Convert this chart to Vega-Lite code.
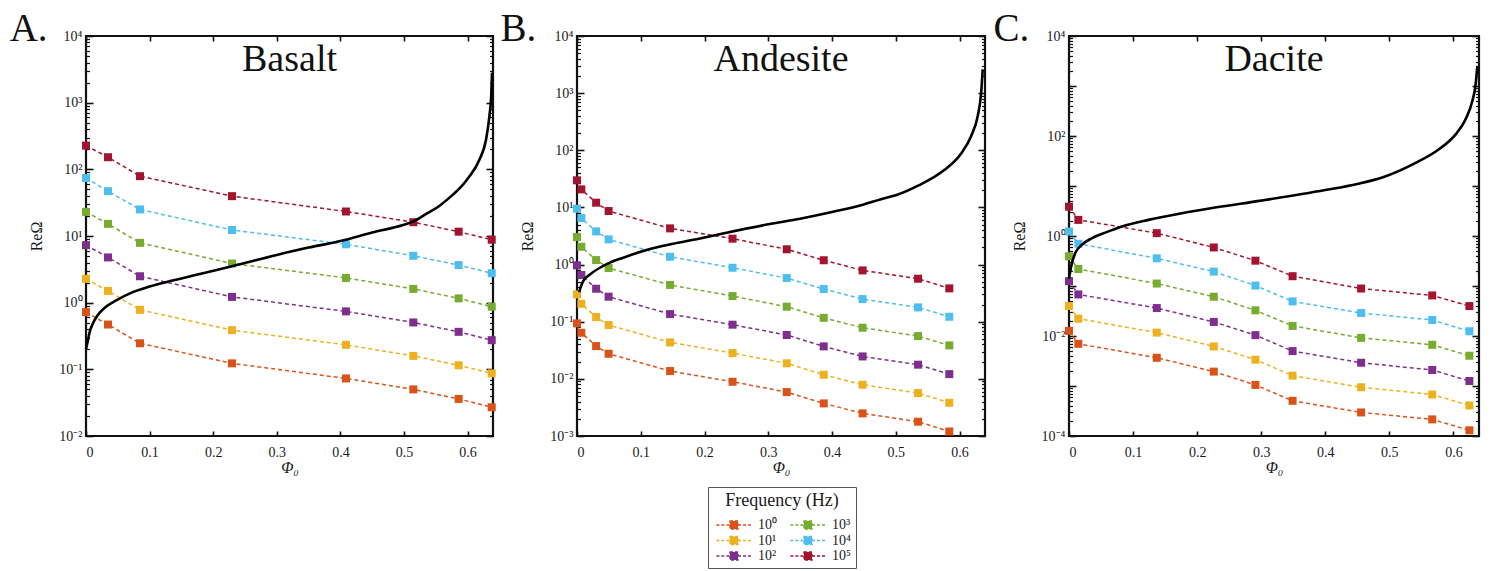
{
  "$schema": "https://vega.github.io/schema/vega-lite/v6.json",
  "padding": {"left": 8, "top": 8, "right": 5, "bottom": 4},
  "bounds": "flush",
  "spacing": 84,
  "background": "white",
  "datasets": {
    "pts": [
      {"rock":"Basalt","phi":0,"re":227,"f":"10⁵"},{"rock":"Basalt","phi":0.0346,"re":152,"f":"10⁵"},{"rock":"Basalt","phi":0.0849,"re":79,"f":"10⁵"},{"rock":"Basalt","phi":0.2296,"re":39.6,"f":"10⁵"},{"rock":"Basalt","phi":0.4088,"re":23.3,"f":"10⁵"},{"rock":"Basalt","phi":0.5147,"re":16.1,"f":"10⁵"},{"rock":"Basalt","phi":0.586,"re":11.6,"f":"10⁵"},{"rock":"Basalt","phi":0.638,"re":8.8,"f":"10⁵"},
      {"rock":"Basalt","phi":0,"re":74,"f":"10⁴"},{"rock":"Basalt","phi":0.0346,"re":47,"f":"10⁴"},{"rock":"Basalt","phi":0.0849,"re":25,"f":"10⁴"},{"rock":"Basalt","phi":0.2296,"re":12.3,"f":"10⁴"},{"rock":"Basalt","phi":0.4088,"re":7.5,"f":"10⁴"},{"rock":"Basalt","phi":0.5147,"re":5.05,"f":"10⁴"},{"rock":"Basalt","phi":0.586,"re":3.66,"f":"10⁴"},{"rock":"Basalt","phi":0.638,"re":2.77,"f":"10⁴"},
      {"rock":"Basalt","phi":0,"re":23,"f":"10³"},{"rock":"Basalt","phi":0.0346,"re":15.2,"f":"10³"},{"rock":"Basalt","phi":0.0849,"re":7.9,"f":"10³"},{"rock":"Basalt","phi":0.2296,"re":3.87,"f":"10³"},{"rock":"Basalt","phi":0.4088,"re":2.35,"f":"10³"},{"rock":"Basalt","phi":0.5147,"re":1.61,"f":"10³"},{"rock":"Basalt","phi":0.586,"re":1.16,"f":"10³"},{"rock":"Basalt","phi":0.638,"re":0.87,"f":"10³"},
      {"rock":"Basalt","phi":0,"re":7.3,"f":"10²"},{"rock":"Basalt","phi":0.0346,"re":4.77,"f":"10²"},{"rock":"Basalt","phi":0.0849,"re":2.49,"f":"10²"},{"rock":"Basalt","phi":0.2296,"re":1.22,"f":"10²"},{"rock":"Basalt","phi":0.4088,"re":0.74,"f":"10²"},{"rock":"Basalt","phi":0.5147,"re":0.505,"f":"10²"},{"rock":"Basalt","phi":0.586,"re":0.365,"f":"10²"},{"rock":"Basalt","phi":0.638,"re":0.274,"f":"10²"},
      {"rock":"Basalt","phi":0,"re":2.28,"f":"10¹"},{"rock":"Basalt","phi":0.0346,"re":1.5,"f":"10¹"},{"rock":"Basalt","phi":0.0849,"re":0.78,"f":"10¹"},{"rock":"Basalt","phi":0.2296,"re":0.387,"f":"10¹"},{"rock":"Basalt","phi":0.4088,"re":0.233,"f":"10¹"},{"rock":"Basalt","phi":0.5147,"re":0.159,"f":"10¹"},{"rock":"Basalt","phi":0.586,"re":0.115,"f":"10¹"},{"rock":"Basalt","phi":0.638,"re":0.087,"f":"10¹"},
      {"rock":"Basalt","phi":0,"re":0.72,"f":"10⁰"},{"rock":"Basalt","phi":0.0346,"re":0.47,"f":"10⁰"},{"rock":"Basalt","phi":0.0849,"re":0.246,"f":"10⁰"},{"rock":"Basalt","phi":0.2296,"re":0.123,"f":"10⁰"},{"rock":"Basalt","phi":0.4088,"re":0.073,"f":"10⁰"},{"rock":"Basalt","phi":0.5147,"re":0.05,"f":"10⁰"},{"rock":"Basalt","phi":0.586,"re":0.036,"f":"10⁰"},{"rock":"Basalt","phi":0.638,"re":0.027,"f":"10⁰"},

      {"rock":"Andesite","phi":0,"re":29.8,"f":"10⁵"},{"rock":"Andesite","phi":0.0068,"re":20.7,"f":"10⁵"},{"rock":"Andesite","phi":0.03,"re":12.1,"f":"10⁵"},{"rock":"Andesite","phi":0.0496,"re":8.65,"f":"10⁵"},{"rock":"Andesite","phi":0.146,"re":4.3,"f":"10⁵"},{"rock":"Andesite","phi":0.244,"re":2.84,"f":"10⁵"},{"rock":"Andesite","phi":0.329,"re":1.85,"f":"10⁵"},{"rock":"Andesite","phi":0.387,"re":1.19,"f":"10⁵"},{"rock":"Andesite","phi":0.448,"re":0.79,"f":"10⁵"},{"rock":"Andesite","phi":0.535,"re":0.566,"f":"10⁵"},{"rock":"Andesite","phi":0.584,"re":0.383,"f":"10⁵"},
      {"rock":"Andesite","phi":0,"re":9.5,"f":"10⁴"},{"rock":"Andesite","phi":0.0068,"re":6.5,"f":"10⁴"},{"rock":"Andesite","phi":0.03,"re":3.81,"f":"10⁴"},{"rock":"Andesite","phi":0.0496,"re":2.76,"f":"10⁴"},{"rock":"Andesite","phi":0.146,"re":1.37,"f":"10⁴"},{"rock":"Andesite","phi":0.244,"re":0.88,"f":"10⁴"},{"rock":"Andesite","phi":0.329,"re":0.58,"f":"10⁴"},{"rock":"Andesite","phi":0.387,"re":0.373,"f":"10⁴"},{"rock":"Andesite","phi":0.448,"re":0.249,"f":"10⁴"},{"rock":"Andesite","phi":0.535,"re":0.178,"f":"10⁴"},{"rock":"Andesite","phi":0.584,"re":0.122,"f":"10⁴"},
      {"rock":"Andesite","phi":0,"re":3.03,"f":"10³"},{"rock":"Andesite","phi":0.0068,"re":2.05,"f":"10³"},{"rock":"Andesite","phi":0.03,"re":1.2,"f":"10³"},{"rock":"Andesite","phi":0.0496,"re":0.87,"f":"10³"},{"rock":"Andesite","phi":0.146,"re":0.44,"f":"10³"},{"rock":"Andesite","phi":0.244,"re":0.281,"f":"10³"},{"rock":"Andesite","phi":0.329,"re":0.183,"f":"10³"},{"rock":"Andesite","phi":0.387,"re":0.117,"f":"10³"},{"rock":"Andesite","phi":0.448,"re":0.0785,"f":"10³"},{"rock":"Andesite","phi":0.535,"re":0.056,"f":"10³"},{"rock":"Andesite","phi":0.584,"re":0.0385,"f":"10³"},
      {"rock":"Andesite","phi":0,"re":0.97,"f":"10²"},{"rock":"Andesite","phi":0.0068,"re":0.656,"f":"10²"},{"rock":"Andesite","phi":0.03,"re":0.378,"f":"10²"},{"rock":"Andesite","phi":0.0496,"re":0.274,"f":"10²"},{"rock":"Andesite","phi":0.146,"re":0.136,"f":"10²"},{"rock":"Andesite","phi":0.244,"re":0.0887,"f":"10²"},{"rock":"Andesite","phi":0.329,"re":0.0585,"f":"10²"},{"rock":"Andesite","phi":0.387,"re":0.037,"f":"10²"},{"rock":"Andesite","phi":0.448,"re":0.0247,"f":"10²"},{"rock":"Andesite","phi":0.535,"re":0.0177,"f":"10²"},{"rock":"Andesite","phi":0.584,"re":0.0121,"f":"10²"},
      {"rock":"Andesite","phi":0,"re":0.3,"f":"10¹"},{"rock":"Andesite","phi":0.0068,"re":0.206,"f":"10¹"},{"rock":"Andesite","phi":0.03,"re":0.121,"f":"10¹"},{"rock":"Andesite","phi":0.0496,"re":0.0875,"f":"10¹"},{"rock":"Andesite","phi":0.146,"re":0.0435,"f":"10¹"},{"rock":"Andesite","phi":0.244,"re":0.0283,"f":"10¹"},{"rock":"Andesite","phi":0.329,"re":0.0187,"f":"10¹"},{"rock":"Andesite","phi":0.387,"re":0.0118,"f":"10¹"},{"rock":"Andesite","phi":0.448,"re":0.00789,"f":"10¹"},{"rock":"Andesite","phi":0.535,"re":0.00564,"f":"10¹"},{"rock":"Andesite","phi":0.584,"re":0.00382,"f":"10¹"},
      {"rock":"Andesite","phi":0,"re":0.0935,"f":"10⁰"},{"rock":"Andesite","phi":0.0068,"re":0.0641,"f":"10⁰"},{"rock":"Andesite","phi":0.03,"re":0.0375,"f":"10⁰"},{"rock":"Andesite","phi":0.0496,"re":0.0275,"f":"10⁰"},{"rock":"Andesite","phi":0.146,"re":0.0137,"f":"10⁰"},{"rock":"Andesite","phi":0.244,"re":0.0089,"f":"10⁰"},{"rock":"Andesite","phi":0.329,"re":0.00587,"f":"10⁰"},{"rock":"Andesite","phi":0.387,"re":0.00372,"f":"10⁰"},{"rock":"Andesite","phi":0.448,"re":0.00249,"f":"10⁰"},{"rock":"Andesite","phi":0.535,"re":0.00178,"f":"10⁰"},{"rock":"Andesite","phi":0.584,"re":0.0012,"f":"10⁰"},

      {"rock":"Dacite","phi":0,"re":3.86,"f":"10⁵"},{"rock":"Dacite","phi":0.0146,"re":2.1,"f":"10⁵"},{"rock":"Dacite","phi":0.137,"re":1.14,"f":"10⁵"},{"rock":"Dacite","phi":0.226,"re":0.59,"f":"10⁵"},{"rock":"Dacite","phi":0.291,"re":0.321,"f":"10⁵"},{"rock":"Dacite","phi":0.349,"re":0.157,"f":"10⁵"},{"rock":"Dacite","phi":0.456,"re":0.089,"f":"10⁵"},{"rock":"Dacite","phi":0.567,"re":0.0647,"f":"10⁵"},{"rock":"Dacite","phi":0.625,"re":0.0397,"f":"10⁵"},
      {"rock":"Dacite","phi":0,"re":1.23,"f":"10⁴"},{"rock":"Dacite","phi":0.0146,"re":0.7,"f":"10⁴"},{"rock":"Dacite","phi":0.137,"re":0.357,"f":"10⁴"},{"rock":"Dacite","phi":0.226,"re":0.194,"f":"10⁴"},{"rock":"Dacite","phi":0.291,"re":0.102,"f":"10⁴"},{"rock":"Dacite","phi":0.349,"re":0.0492,"f":"10⁴"},{"rock":"Dacite","phi":0.456,"re":0.0288,"f":"10⁴"},{"rock":"Dacite","phi":0.567,"re":0.0209,"f":"10⁴"},{"rock":"Dacite","phi":0.625,"re":0.01245,"f":"10⁴"},
      {"rock":"Dacite","phi":0,"re":0.392,"f":"10³"},{"rock":"Dacite","phi":0.0146,"re":0.219,"f":"10³"},{"rock":"Dacite","phi":0.137,"re":0.112,"f":"10³"},{"rock":"Dacite","phi":0.226,"re":0.061,"f":"10³"},{"rock":"Dacite","phi":0.291,"re":0.0326,"f":"10³"},{"rock":"Dacite","phi":0.349,"re":0.0159,"f":"10³"},{"rock":"Dacite","phi":0.456,"re":0.00918,"f":"10³"},{"rock":"Dacite","phi":0.567,"re":0.00667,"f":"10³"},{"rock":"Dacite","phi":0.625,"re":0.00403,"f":"10³"},
      {"rock":"Dacite","phi":0,"re":0.125,"f":"10²"},{"rock":"Dacite","phi":0.0146,"re":0.0678,"f":"10²"},{"rock":"Dacite","phi":0.137,"re":0.0362,"f":"10²"},{"rock":"Dacite","phi":0.226,"re":0.0191,"f":"10²"},{"rock":"Dacite","phi":0.291,"re":0.0104,"f":"10²"},{"rock":"Dacite","phi":0.349,"re":0.00499,"f":"10²"},{"rock":"Dacite","phi":0.456,"re":0.00292,"f":"10²"},{"rock":"Dacite","phi":0.567,"re":0.00209,"f":"10²"},{"rock":"Dacite","phi":0.625,"re":0.00126,"f":"10²"},
      {"rock":"Dacite","phi":0,"re":0.0397,"f":"10¹"},{"rock":"Dacite","phi":0.0146,"re":0.0222,"f":"10¹"},{"rock":"Dacite","phi":0.137,"re":0.0117,"f":"10¹"},{"rock":"Dacite","phi":0.226,"re":0.00618,"f":"10¹"},{"rock":"Dacite","phi":0.291,"re":0.00336,"f":"10¹"},{"rock":"Dacite","phi":0.349,"re":0.00161,"f":"10¹"},{"rock":"Dacite","phi":0.456,"re":0.000944,"f":"10¹"},{"rock":"Dacite","phi":0.567,"re":0.000676,"f":"10¹"},{"rock":"Dacite","phi":0.625,"re":0.000408,"f":"10¹"},
      {"rock":"Dacite","phi":0,"re":0.01265,"f":"10⁰"},{"rock":"Dacite","phi":0.0146,"re":0.00698,"f":"10⁰"},{"rock":"Dacite","phi":0.137,"re":0.00367,"f":"10⁰"},{"rock":"Dacite","phi":0.226,"re":0.00194,"f":"10⁰"},{"rock":"Dacite","phi":0.291,"re":0.00105,"f":"10⁰"},{"rock":"Dacite","phi":0.349,"re":0.000506,"f":"10⁰"},{"rock":"Dacite","phi":0.456,"re":0.000296,"f":"10⁰"},{"rock":"Dacite","phi":0.567,"re":0.000215,"f":"10⁰"},{"rock":"Dacite","phi":0.625,"re":0.00013,"f":"10⁰"}
    ],
    "curve": [
      {"rock":"Basalt","phi":0,"re":0.2},{"rock":"Basalt","phi":0.003,"re":0.27},{"rock":"Basalt","phi":0.005,"re":0.34},{"rock":"Basalt","phi":0.0105,"re":0.48},{"rock":"Basalt","phi":0.018,"re":0.64},{"rock":"Basalt","phi":0.031,"re":0.86},{"rock":"Basalt","phi":0.0475,"re":1.08},{"rock":"Basalt","phi":0.0735,"re":1.44},{"rock":"Basalt","phi":0.1,"re":1.75},{"rock":"Basalt","phi":0.136,"re":2.15},{"rock":"Basalt","phi":0.179,"re":2.7},{"rock":"Basalt","phi":0.231,"re":3.55},{"rock":"Basalt","phi":0.3,"re":5.2},{"rock":"Basalt","phi":0.35,"re":6.7},{"rock":"Basalt","phi":0.4,"re":8.4},{"rock":"Basalt","phi":0.45,"re":11.3},{"rock":"Basalt","phi":0.5,"re":14.8},{"rock":"Basalt","phi":0.515,"re":16.6},{"rock":"Basalt","phi":0.535,"re":21.5},{"rock":"Basalt","phi":0.555,"re":28},{"rock":"Basalt","phi":0.576,"re":41},{"rock":"Basalt","phi":0.59,"re":55},{"rock":"Basalt","phi":0.602,"re":76},{"rock":"Basalt","phi":0.6186,"re":139},{"rock":"Basalt","phi":0.629,"re":277},{"rock":"Basalt","phi":0.6343,"re":624},{"rock":"Basalt","phi":0.6374,"re":1400},{"rock":"Basalt","phi":0.6384,"re":2800},
      {"rock":"Andesite","phi":0.0035,"re":0.33},{"rock":"Andesite","phi":0.0047,"re":0.37},{"rock":"Andesite","phi":0.0099,"re":0.52},{"rock":"Andesite","phi":0.0203,"re":0.67},{"rock":"Andesite","phi":0.036,"re":0.88},{"rock":"Andesite","phi":0.0516,"re":1.08},{"rock":"Andesite","phi":0.0725,"re":1.32},{"rock":"Andesite","phi":0.109,"re":1.8},{"rock":"Andesite","phi":0.151,"re":2.32},{"rock":"Andesite","phi":0.193,"re":2.87},{"rock":"Andesite","phi":0.229,"re":3.5},{"rock":"Andesite","phi":0.3,"re":5.06},{"rock":"Andesite","phi":0.35,"re":6.35},{"rock":"Andesite","phi":0.4,"re":8.3},{"rock":"Andesite","phi":0.45,"re":11.3},{"rock":"Andesite","phi":0.4825,"re":14.5},{"rock":"Andesite","phi":0.5,"re":16.3},{"rock":"Andesite","phi":0.535,"re":24},{"rock":"Andesite","phi":0.576,"re":45},{"rock":"Andesite","phi":0.6026,"re":88},{"rock":"Andesite","phi":0.618,"re":175},{"rock":"Andesite","phi":0.6286,"re":398},{"rock":"Andesite","phi":0.634,"re":1020},{"rock":"Andesite","phi":0.6364,"re":2600},
      {"rock":"Dacite","phi":0,"re":0.14},{"rock":"Dacite","phi":0.002,"re":0.2},{"rock":"Dacite","phi":0.0047,"re":0.29},{"rock":"Dacite","phi":0.0099,"re":0.46},{"rock":"Dacite","phi":0.0203,"re":0.67},{"rock":"Dacite","phi":0.0359,"re":0.91},{"rock":"Dacite","phi":0.0567,"re":1.17},{"rock":"Dacite","phi":0.0827,"re":1.55},{"rock":"Dacite","phi":0.124,"re":2.1},{"rock":"Dacite","phi":0.176,"re":2.85},{"rock":"Dacite","phi":0.228,"re":3.7},{"rock":"Dacite","phi":0.3,"re":5.1},{"rock":"Dacite","phi":0.4,"re":8.3},{"rock":"Dacite","phi":0.45,"re":11},{"rock":"Dacite","phi":0.489,"re":14.8},{"rock":"Dacite","phi":0.541,"re":29},{"rock":"Dacite","phi":0.578,"re":55},{"rock":"Dacite","phi":0.6036,"re":108},{"rock":"Dacite","phi":0.619,"re":215},{"rock":"Dacite","phi":0.6296,"re":500},{"rock":"Dacite","phi":0.6348,"re":1090},{"rock":"Dacite","phi":0.6374,"re":2530}
    ]
  },
  "config": {
    "view": {"stroke": "#111", "strokeWidth": 2.2},
    "font": "Liberation Serif",
    "axis": {"labelFont": "Liberation Serif", "titleFont": "Liberation Serif", "labelColor": "#1a1a1a", "titleColor": "#1a1a1a", "domain": false, "grid": false, "tickColor": "#111", "tickWidth": 1.6, "labelFontSize": 14, "titleFontSize": 16, "titleFontWeight": "normal"},
    "legend": {"titleFont": "Liberation Serif", "labelFont": "Liberation Serif", "titleFontWeight": "normal"}
  },
  "hconcat": [
    {
      "width": 407, "height": 400,
      "resolve": {"axis": {"x": "independent", "y": "independent"}},
      "layer": [
        {"data": {"name": "pts"}, "transform": [{"filter": "datum.rock == 'Basalt'"}],
         "mark": {"type": "line", "strokeDash": [4, 3], "strokeWidth": 1.5},
         "encoding": {
           "x": {"field": "phi", "type": "quantitative", "scale": {"domain": [0, 0.64], "nice": false, "zero": false},
                 "axis": {"orient": "bottom", "values": [0, 0.1, 0.2, 0.3, 0.4, 0.5, 0.6], "format": "~g", "tickSize": -5, "labelPadding": 14, "title": "Φ₀", "titleFontStyle": "italic", "titlePadding": 0}},
           "y": {"field": "re", "type": "quantitative", "scale": {"type": "log", "domain": [0.01, 10000], "nice": false},
                 "axis": {"orient": "left", "values": [0.01, 0.1, 1, 10, 100, 1000, 10000], "tickSize": -7, "labelPadding": 11, "title": "ReΩ", "titlePadding": 14,
                          "labelExpr": "datum.value == 10000 ? '10⁴' : datum.value == 1000 ? '10³' : datum.value == 100 ? '10²' : datum.value == 10 ? '10¹' : datum.value == 1 ? '10⁰' : datum.value == 0.1 ? '10⁻¹' : datum.value == 0.01 ? '10⁻²' : datum.value == 0.001 ? '10⁻³' : datum.value == 0.0001 ? '10⁻⁴' : ''"}},
           "color": {"field": "f", "type": "nominal",
                     "scale": {"domain": ["10⁰", "10¹", "10²", "10³", "10⁴", "10⁵"], "range": ["#D95319", "#EDB120", "#7E2F8E", "#77AC30", "#4DBEEE", "#A2142F"]},
                     "legend": {"title": "Frequency (Hz)", "orient": "none", "legendX": 622, "legendY": 451, "columns": 2, "direction": "vertical",
                                "titleFontSize": 18, "titleAnchor": "middle", "titlePadding": 8, "labelFontSize": 14,
                                "symbolType": "M-4.4,0H-1M-1,-1H1V1H-1ZM1,0H4.4", "symbolSize": 64, "symbolStrokeWidth": 1.3, "symbolDash": [3, 2],
                                "symbolOffset": 14, "labelOffset": 17, "columnPadding": 10, "rowPadding": 1.5, "padding": 5,
                                "strokeColor": "#555", "fillColor": "white", "labelColor": "#1a1a1a", "titleColor": "#1a1a1a"}}
         }},
        {"data": {"name": "pts"}, "transform": [{"filter": "datum.rock == 'Basalt'"}],
         "mark": {"type": "point", "shape": "square", "filled": true, "size": 64, "opacity": 1},
         "encoding": {
           "x": {"field": "phi", "type": "quantitative", "scale": {"domain": [0, 0.64], "nice": false, "zero": false}, "axis": null},
           "y": {"field": "re", "type": "quantitative", "scale": {"type": "log", "domain": [0.01, 10000], "nice": false}, "axis": null},
           "color": {"field": "f", "type": "nominal"}
         }},
        {"data": {"name": "curve"}, "transform": [{"filter": "datum.rock == 'Basalt'"}],
         "mark": {"type": "line", "color": "black", "strokeWidth": 2.6, "interpolate": "monotone"},
         "encoding": {
           "x": {"field": "phi", "type": "quantitative", "scale": {"domain": [0, 0.64], "nice": false, "zero": false},
                 "axis": {"orient": "top", "values": [0, 0.1, 0.2, 0.3, 0.4, 0.5, 0.6], "labels": false, "tickSize": -5, "title": null}},
           "y": {"field": "re", "type": "quantitative", "scale": {"type": "log", "domain": [0.01, 10000], "nice": false},
                 "axis": {"orient": "right", "values": [0.01, 0.1, 1, 10, 100, 1000, 10000], "labels": false, "tickSize": -7, "title": null}}
         }},
        {"data": {"values": [{}]},
         "mark": {"type": "text", "text": "Basalt", "fontSize": 38, "align": "center", "baseline": "alphabetic", "color": "#111"},
         "encoding": {
           "x": {"datum": 0.32, "type": "quantitative", "scale": {"domain": [0, 0.64], "nice": false, "zero": false}, "axis": null},
           "y": {"datum": 2982, "type": "quantitative", "scale": {"type": "log", "domain": [0.01, 10000], "nice": false},
                 "axis": {"orient": "left", "values": [0.02,0.03,0.04,0.05,0.06,0.07,0.08,0.09,0.2,0.3,0.4,0.5,0.6,0.7,0.8,0.9,2,3,4,5,6,7,8,9,20,30,40,50,60,70,80,90,200,300,400,500,600,700,800,900,2000,3000,4000,5000,6000,7000,8000,9000], "labels": false, "tickSize": -3.5, "tickWidth": 1.2, "title": null}}
         }},
        {"data": {"values": [{}]},
         "mark": {"type": "text", "text": "A.", "fontSize": 39, "align": "left", "baseline": "alphabetic", "color": "#111"},
         "encoding": {
           "x": {"datum": -0.12, "type": "quantitative", "scale": {"domain": [0, 0.64], "nice": false, "zero": false}, "axis": null},
           "y": {"datum": 8414, "type": "quantitative", "scale": {"type": "log", "domain": [0.01, 10000], "nice": false},
                 "axis": {"orient": "right", "values": [0.02,0.03,0.04,0.05,0.06,0.07,0.08,0.09,0.2,0.3,0.4,0.5,0.6,0.7,0.8,0.9,2,3,4,5,6,7,8,9,20,30,40,50,60,70,80,90,200,300,400,500,600,700,800,900,2000,3000,4000,5000,6000,7000,8000,9000], "labels": false, "tickSize": -3.5, "tickWidth": 1.2, "title": null}}
         }}
      ]
    },
    {
      "width": 408, "height": 400,
      "resolve": {"axis": {"x": "independent", "y": "independent"}},
      "layer": [
        {"data": {"name": "pts"}, "transform": [{"filter": "datum.rock == 'Andesite'"}],
         "mark": {"type": "line", "strokeDash": [4, 3], "strokeWidth": 1.5},
         "encoding": {
           "x": {"field": "phi", "type": "quantitative", "scale": {"domain": [0, 0.64], "nice": false, "zero": false},
                 "axis": {"orient": "bottom", "values": [0, 0.1, 0.2, 0.3, 0.4, 0.5, 0.6], "format": "~g", "tickSize": -5, "labelPadding": 14, "title": "Φ₀", "titleFontStyle": "italic", "titlePadding": 0}},
           "y": {"field": "re", "type": "quantitative", "scale": {"type": "log", "domain": [0.001, 10000], "nice": false},
                 "axis": {"orient": "left", "values": [0.001, 0.01, 0.1, 1, 10, 100, 1000, 10000], "tickSize": -7, "labelPadding": 11, "title": "ReΩ", "titlePadding": 14,
                          "labelExpr": "datum.value == 10000 ? '10⁴' : datum.value == 1000 ? '10³' : datum.value == 100 ? '10²' : datum.value == 10 ? '10¹' : datum.value == 1 ? '10⁰' : datum.value == 0.1 ? '10⁻¹' : datum.value == 0.01 ? '10⁻²' : datum.value == 0.001 ? '10⁻³' : datum.value == 0.0001 ? '10⁻⁴' : ''"}},
           "color": {"field": "f", "type": "nominal"}
         }},
        {"data": {"name": "pts"}, "transform": [{"filter": "datum.rock == 'Andesite'"}],
         "mark": {"type": "point", "shape": "square", "filled": true, "size": 64, "opacity": 1},
         "encoding": {
           "x": {"field": "phi", "type": "quantitative", "scale": {"domain": [0, 0.64], "nice": false, "zero": false}, "axis": null},
           "y": {"field": "re", "type": "quantitative", "scale": {"type": "log", "domain": [0.001, 10000], "nice": false}, "axis": null},
           "color": {"field": "f", "type": "nominal"}
         }},
        {"data": {"name": "curve"}, "transform": [{"filter": "datum.rock == 'Andesite'"}],
         "mark": {"type": "line", "color": "black", "strokeWidth": 2.6, "interpolate": "monotone"},
         "encoding": {
           "x": {"field": "phi", "type": "quantitative", "scale": {"domain": [0, 0.64], "nice": false, "zero": false},
                 "axis": {"orient": "top", "values": [0, 0.1, 0.2, 0.3, 0.4, 0.5, 0.6], "labels": false, "tickSize": -5, "title": null}},
           "y": {"field": "re", "type": "quantitative", "scale": {"type": "log", "domain": [0.001, 10000], "nice": false},
                 "axis": {"orient": "right", "values": [0.001, 0.01, 0.1, 1, 10, 100, 1000, 10000], "labels": false, "tickSize": -7, "title": null}}
         }},
        {"data": {"values": [{}]},
         "mark": {"type": "text", "text": "Andesite", "fontSize": 38, "align": "center", "baseline": "alphabetic", "color": "#111"},
         "encoding": {
           "x": {"datum": 0.32, "type": "quantitative", "scale": {"domain": [0, 0.64], "nice": false, "zero": false}, "axis": null},
           "y": {"datum": 2441, "type": "quantitative", "scale": {"type": "log", "domain": [0.001, 10000], "nice": false},
                 "axis": {"orient": "left", "values": [0.002,0.003,0.004,0.005,0.006,0.007,0.008,0.009,0.02,0.03,0.04,0.05,0.06,0.07,0.08,0.09,0.2,0.3,0.4,0.5,0.6,0.7,0.8,0.9,2,3,4,5,6,7,8,9,20,30,40,50,60,70,80,90,200,300,400,500,600,700,800,900,2000,3000,4000,5000,6000,7000,8000,9000], "labels": false, "tickSize": -3.5, "tickWidth": 1.2, "title": null}}
         }},
        {"data": {"values": [{}]},
         "mark": {"type": "text", "text": "B.", "fontSize": 39, "align": "left", "baseline": "alphabetic", "color": "#111"},
         "encoding": {
           "x": {"datum": -0.12, "type": "quantitative", "scale": {"domain": [0, 0.64], "nice": false, "zero": false}, "axis": null},
           "y": {"datum": 8175, "type": "quantitative", "scale": {"type": "log", "domain": [0.001, 10000], "nice": false},
                 "axis": {"orient": "right", "values": [0.002,0.003,0.004,0.005,0.006,0.007,0.008,0.009,0.02,0.03,0.04,0.05,0.06,0.07,0.08,0.09,0.2,0.3,0.4,0.5,0.6,0.7,0.8,0.9,2,3,4,5,6,7,8,9,20,30,40,50,60,70,80,90,200,300,400,500,600,700,800,900,2000,3000,4000,5000,6000,7000,8000,9000], "labels": false, "tickSize": -3.5, "tickWidth": 1.2, "title": null}}
         }}
      ]
    },
    {
      "width": 410, "height": 400,
      "resolve": {"axis": {"x": "independent", "y": "independent"}},
      "layer": [
        {"data": {"name": "pts"}, "transform": [{"filter": "datum.rock == 'Dacite'"}],
         "mark": {"type": "line", "strokeDash": [4, 3], "strokeWidth": 1.5},
         "encoding": {
           "x": {"field": "phi", "type": "quantitative", "scale": {"domain": [0, 0.64], "nice": false, "zero": false},
                 "axis": {"orient": "bottom", "values": [0, 0.1, 0.2, 0.3, 0.4, 0.5, 0.6], "format": "~g", "tickSize": -5, "labelPadding": 14, "title": "Φ₀", "titleFontStyle": "italic", "titlePadding": 0}},
           "y": {"field": "re", "type": "quantitative", "scale": {"type": "log", "domain": [0.0001, 10000], "nice": false},
                 "axis": {"orient": "left", "values": [0.0001, 0.001, 0.01, 0.1, 1, 10, 100, 1000, 10000], "tickSize": -7, "labelPadding": 11, "title": "ReΩ", "titlePadding": 14,
                          "labelExpr": "datum.value == 10000 ? '10⁴' : datum.value == 100 ? '10²' : datum.value == 1 ? '10⁰' : datum.value == 0.01 ? '10⁻²' : datum.value == 0.0001 ? '10⁻⁴' : ''"}},
           "color": {"field": "f", "type": "nominal"}
         }},
        {"data": {"name": "pts"}, "transform": [{"filter": "datum.rock == 'Dacite'"}],
         "mark": {"type": "point", "shape": "square", "filled": true, "size": 64, "opacity": 1},
         "encoding": {
           "x": {"field": "phi", "type": "quantitative", "scale": {"domain": [0, 0.64], "nice": false, "zero": false}, "axis": null},
           "y": {"field": "re", "type": "quantitative", "scale": {"type": "log", "domain": [0.0001, 10000], "nice": false}, "axis": null},
           "color": {"field": "f", "type": "nominal"}
         }},
        {"data": {"name": "curve"}, "transform": [{"filter": "datum.rock == 'Dacite'"}],
         "mark": {"type": "line", "color": "black", "strokeWidth": 2.6, "interpolate": "monotone"},
         "encoding": {
           "x": {"field": "phi", "type": "quantitative", "scale": {"domain": [0, 0.64], "nice": false, "zero": false},
                 "axis": {"orient": "top", "values": [0, 0.1, 0.2, 0.3, 0.4, 0.5, 0.6], "labels": false, "tickSize": -5, "title": null}},
           "y": {"field": "re", "type": "quantitative", "scale": {"type": "log", "domain": [0.0001, 10000], "nice": false},
                 "axis": {"orient": "right", "values": [0.0001, 0.001, 0.01, 0.1, 1, 10, 100, 1000, 10000], "labels": false, "tickSize": -7, "title": null}}
         }},
        {"data": {"values": [{}]},
         "mark": {"type": "text", "text": "Dacite", "fontSize": 38, "align": "center", "baseline": "alphabetic", "color": "#111"},
         "encoding": {
           "x": {"datum": 0.32, "type": "quantitative", "scale": {"domain": [0, 0.64], "nice": false, "zero": false}, "axis": null},
           "y": {"datum": 1995, "type": "quantitative", "scale": {"type": "log", "domain": [0.0001, 10000], "nice": false},
                 "axis": {"orient": "left", "values": [0.0002,0.0003,0.0004,0.0005,0.0006,0.0007,0.0008,0.0009,0.002,0.003,0.004,0.005,0.006,0.007,0.008,0.009,0.02,0.03,0.04,0.05,0.06,0.07,0.08,0.09,0.2,0.3,0.4,0.5,0.6,0.7,0.8,0.9,2,3,4,5,6,7,8,9,20,30,40,50,60,70,80,90,200,300,400,500,600,700,800,900,2000,3000,4000,5000,6000,7000,8000,9000], "labels": false, "tickSize": -3.5, "tickWidth": 1.2, "title": null}}
         }},
        {"data": {"values": [{}]},
         "mark": {"type": "text", "text": "C.", "fontSize": 39, "align": "left", "baseline": "alphabetic", "color": "#111"},
         "encoding": {
           "x": {"datum": -0.118, "type": "quantitative", "scale": {"domain": [0, 0.64], "nice": false, "zero": false}, "axis": null},
           "y": {"datum": 7943, "type": "quantitative", "scale": {"type": "log", "domain": [0.0001, 10000], "nice": false},
                 "axis": {"orient": "right", "values": [0.0002,0.0003,0.0004,0.0005,0.0006,0.0007,0.0008,0.0009,0.002,0.003,0.004,0.005,0.006,0.007,0.008,0.009,0.02,0.03,0.04,0.05,0.06,0.07,0.08,0.09,0.2,0.3,0.4,0.5,0.6,0.7,0.8,0.9,2,3,4,5,6,7,8,9,20,30,40,50,60,70,80,90,200,300,400,500,600,700,800,900,2000,3000,4000,5000,6000,7000,8000,9000], "labels": false, "tickSize": -3.5, "tickWidth": 1.2, "title": null}}
         }}
      ]
    }
  ]
}
